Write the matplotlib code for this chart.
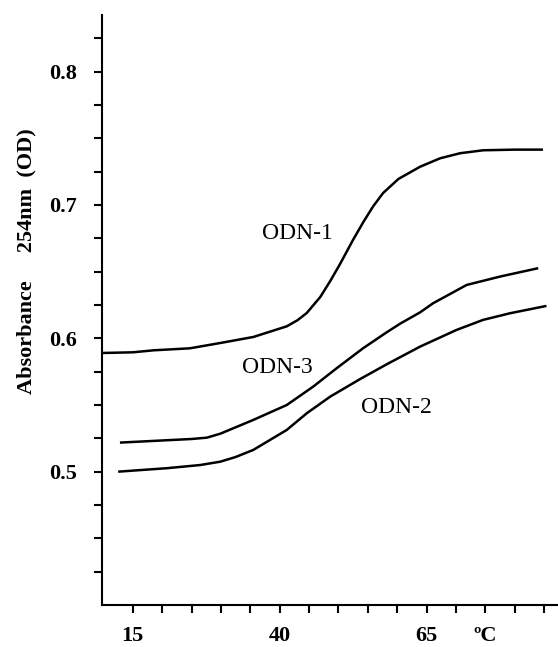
import numpy as np
import matplotlib
matplotlib.use('Agg')
import matplotlib.pyplot as plt
from matplotlib.ticker import FixedLocator

plt.rcParams['font.family'] = ['Liberation Serif', 'DejaVu Serif']

# Données
odn1_T = [9.8, 15, 18.5, 24.7, 29.9, 35.5, 41.2, 43.0, 44.6, 46.9, 48.6, 50.3, 52.5,
          54.2, 55.9, 57.6, 60.2, 63.9, 67.3, 70.7, 74.6, 80.0, 84.8]
odn1_A = [0.589, 0.5895, 0.591, 0.5925, 0.5965, 0.601, 0.609, 0.6135, 0.619, 0.631,
          0.643, 0.656, 0.674, 0.687, 0.699, 0.709, 0.7195, 0.7287, 0.735, 0.7388,
          0.741, 0.7415, 0.7415]

odn3_T = [12.8, 19.6, 25.0, 27.6, 29.9, 35.5, 41.2, 45.7, 49.7, 54.2, 58.2, 60.5,
          63.9, 66.1, 71.8, 77.5, 84.0]
odn3_A = [0.5218, 0.5233, 0.5245, 0.5255, 0.5285, 0.5388, 0.55, 0.5638, 0.5776,
          0.5926, 0.6045, 0.611, 0.6195, 0.6263, 0.640, 0.6463, 0.6526]

odn2_T = [12.5, 20.8, 26.5, 29.9, 32.5, 35.5, 41.2, 44.6, 48.6, 53.7, 58.2, 63.9,
          70.1, 74.6, 79.2, 85.4]
odn2_A = [0.500, 0.5026, 0.505, 0.5075, 0.511, 0.5163, 0.5313, 0.5438, 0.5563,
          0.5695, 0.5805, 0.5938, 0.6063, 0.6138, 0.6188, 0.6243]

x_lab_pos = [15, 40, 65, 75]
x_lab_txt = ['15', '40', '65', 'ºC']
y_lab_pos = [0.5, 0.6, 0.7, 0.8]
y_lab_txt = ['0.5', '0.6', '0.7', '0.8']

fig = plt.figure(figsize=(5.58, 6.47), dpi=100)
ax = fig.add_axes([0.1823, 0.0649, 0.816, 0.912])

for T, A in [(odn1_T, odn1_A), (odn3_T, odn3_A), (odn2_T, odn2_A)]:
    ax.plot(T, A, color='black', lw=1.8, solid_capstyle='butt', solid_joinstyle='round')

ax.text(43.0, 0.6783, 'ODN-1', fontsize=17, ha='center', va='center')
ax.text(39.6, 0.5782, 'ODN-3', fontsize=17, ha='center', va='center')
ax.text(59.9, 0.5478, 'ODN-2', fontsize=17, ha='center', va='center')

ax.set_xlim(9.7, 87.2)
ax.set_ylim(0.4, 0.8425)

for s in ['top', 'right']:
    ax.spines[s].set_visible(False)
for s in ['left', 'bottom']:
    ax.spines[s].set_linewidth(1.5)

ax.xaxis.set_major_locator(FixedLocator(x_lab_pos))
ax.set_xticklabels(x_lab_txt, fontsize=16, fontweight='bold')
ax.xaxis.set_minor_locator(FixedLocator([t for t in range(15, 90, 5) if t not in x_lab_pos]))
ax.yaxis.set_major_locator(FixedLocator(y_lab_pos))
ax.set_yticklabels(y_lab_txt, fontsize=16, fontweight='bold')
ax.yaxis.set_minor_locator(FixedLocator([round(0.425 + 0.025 * i, 3) for i in range(17)
                                         if round(0.425 + 0.025 * i, 3) not in y_lab_pos]))

ax.tick_params(which='both', direction='out', length=6, width=1.5, color='black')
ax.tick_params(axis='x', which='major', pad=9)
ax.tick_params(axis='y', which='major', pad=12)

fig.text(26 / 558, 1 - 261.5 / 647, 'Absorbance     254nm  (OD)', rotation=90,
         ha='center', va='center', fontsize=16, fontweight='bold')

fig.savefig('out.png', dpi=100)
